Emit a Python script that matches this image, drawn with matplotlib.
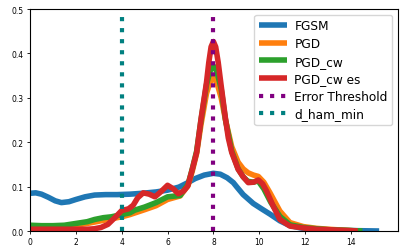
import matplotlib
matplotlib.use("Agg")
import matplotlib.pyplot as plt

# FGSM
fgsm_x = [0.0, 0.25, 0.5, 0.8, 1.1, 1.37, 1.7, 2.0, 2.4, 2.82, 3.3, 3.8, 4.36, 4.9, 5.5, 6.0, 6.5, 6.85, 7.2, 7.6, 8.0, 8.3, 8.6, 8.87, 9.01, 9.3, 9.74, 10.1, 10.47, 10.9, 11.3, 11.7, 12.0, 12.5, 13.0, 14.0, 15.23]
fgsm_y = [0.085, 0.086, 0.083, 0.076, 0.068, 0.064, 0.066, 0.071, 0.077, 0.081, 0.082, 0.082, 0.083, 0.085, 0.088, 0.092, 0.099, 0.108, 0.118, 0.126, 0.130, 0.128, 0.120, 0.109, 0.100, 0.082, 0.062, 0.050, 0.038, 0.023, 0.013, 0.008, 0.005, 0.003, 0.002, 0.001, 0.0]

# PGD
pgd_x = [0.0, 0.5, 1.0, 1.5, 2.0, 2.5, 3.0, 3.5, 4.0, 4.36, 5.0, 5.5, 6.0, 6.55, 6.9, 7.08, 7.27, 7.46, 7.7, 7.85, 8.0, 8.15, 8.34, 8.53, 8.8, 9.08, 9.3, 9.52, 9.75, 9.96, 10.2, 10.47, 10.7, 10.9, 11.34, 11.92, 12.5, 13.0, 14.3]
pgd_y = [0.010, 0.009, 0.009, 0.010, 0.013, 0.017, 0.022, 0.027, 0.032, 0.037, 0.048, 0.057, 0.071, 0.079, 0.103, 0.135, 0.175, 0.240, 0.310, 0.335, 0.345, 0.335, 0.300, 0.250, 0.190, 0.155, 0.140, 0.131, 0.126, 0.123, 0.110, 0.086, 0.064, 0.045, 0.019, 0.010, 0.006, 0.004, 0.0]

# PGD_cw
pgdcw_x = [0.0, 0.5, 1.0, 1.5, 2.0, 2.5, 2.82, 3.2, 3.55, 4.0, 4.36, 4.57, 5.0, 5.5, 6.0, 6.55, 6.9, 7.08, 7.27, 7.46, 7.7, 7.85, 8.0, 8.15, 8.34, 8.53, 8.8, 9.08, 9.3, 9.5, 9.75, 9.95, 10.2, 10.5, 10.9, 11.34, 11.92, 12.5, 13.0, 14.5]
pgdcw_y = [0.013, 0.012, 0.012, 0.013, 0.017, 0.021, 0.026, 0.030, 0.032, 0.037, 0.041, 0.047, 0.054, 0.064, 0.077, 0.080, 0.106, 0.140, 0.180, 0.250, 0.330, 0.360, 0.372, 0.360, 0.320, 0.250, 0.180, 0.140, 0.122, 0.112, 0.110, 0.113, 0.095, 0.065, 0.033, 0.014, 0.008, 0.005, 0.003, 0.0]

# PGD_cw es
pgdcwes_x = [0.0, 0.5, 1.0, 1.5, 2.0, 2.5, 2.8, 3.1, 3.4, 3.7, 4.0, 4.3, 4.5, 4.7, 4.94, 5.2, 5.45, 5.7, 6.0, 6.25, 6.47, 6.7, 6.88, 7.08, 7.27, 7.46, 7.6, 7.7, 7.8, 7.9, 8.0, 8.1, 8.21, 8.34, 8.53, 8.65, 8.8, 9.08, 9.3, 9.52, 9.75, 9.96, 10.15, 10.32, 10.61, 10.9, 11.34, 11.92, 12.5, 13.0, 14.3]
pgdcwes_y = [0.004, 0.004, 0.004, 0.004, 0.004, 0.004, 0.005, 0.008, 0.015, 0.030, 0.046, 0.050, 0.058, 0.075, 0.086, 0.083, 0.077, 0.088, 0.103, 0.095, 0.084, 0.090, 0.101, 0.139, 0.177, 0.252, 0.300, 0.335, 0.380, 0.415, 0.427, 0.415, 0.380, 0.327, 0.252, 0.210, 0.177, 0.139, 0.122, 0.109, 0.110, 0.115, 0.106, 0.090, 0.056, 0.026, 0.011, 0.007, 0.004, 0.003, 0.0]

error_threshold = 8
d_ham_min = 4

fig = plt.figure(figsize=(4.07, 2.53), dpi=100)
ax = fig.add_axes([0.0737, 0.083, 0.904, 0.877])

lw = 4
kw = dict(lw=lw, solid_joinstyle='round', solid_capstyle='butt')
ax.plot(fgsm_x, fgsm_y, color='#1f77b4', label='FGSM', **kw)
ax.plot(pgd_x, pgd_y, color='#ff7f0e', label='PGD', **kw)
ax.plot(pgdcw_x, pgdcw_y, color='#2ca02c', label='PGD_cw', **kw)
ax.plot(pgdcwes_x, pgdcwes_y, color='#d62728', label='PGD_cw es', **kw)
ax.vlines(error_threshold, 0, 0.49, colors='purple', linestyles=':', lw=3, label='Error Threshold')
ax.vlines(d_ham_min, 0, 0.49, colors='teal', linestyles=':', lw=3, label='d_ham_min')

ax.set_xlim(0, 16.05)
ax.set_ylim(0, 0.5)
ax.set_xticks([0, 2, 4, 6, 8, 10, 12, 14])
ax.set_yticks([0.0, 0.1, 0.2, 0.3, 0.4, 0.5])
ax.tick_params(labelsize=5.5, length=2.5, width=0.6, pad=2)
for s in ax.spines.values():
    s.set_linewidth(0.8)

ax.legend(loc='upper right', fontsize=8.7, labelspacing=0.38, handlelength=2.3,
          borderpad=0.4, handletextpad=0.6, borderaxespad=0.45)

fig.savefig('out.png', dpi=100)
